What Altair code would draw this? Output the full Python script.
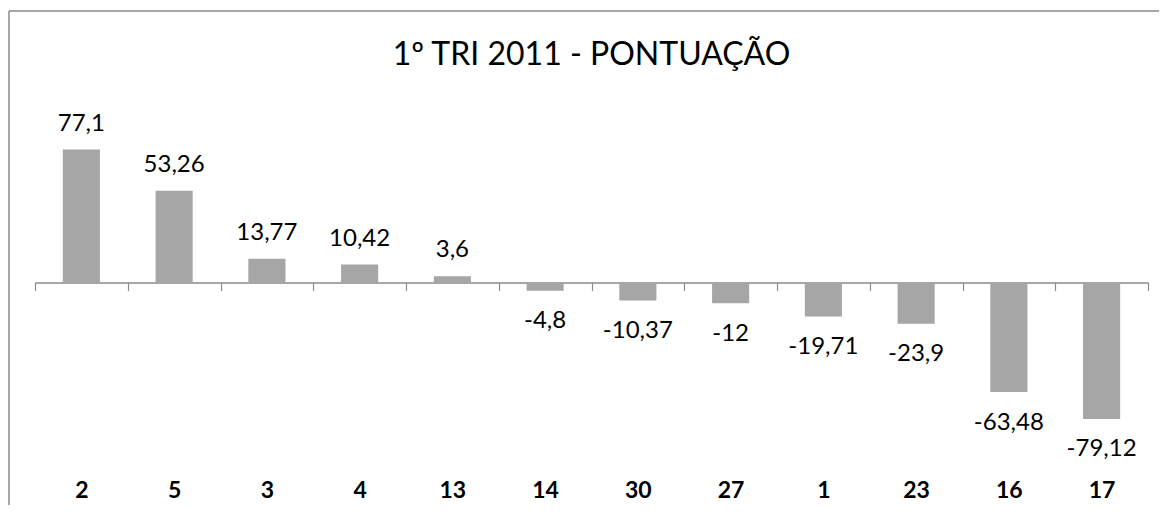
import altair as alt
import pandas as pd

categories = ["2", "5", "3", "4", "13", "14", "30", "27", "1", "23", "16", "17"]
values = [77.1, 53.26, 13.77, 10.42, 3.6, -4.8, -10.37, -12, -19.71, -23.9, -63.48, -79.12]
labels = [f"{v:g}".replace(".", ",") for v in values]

df = pd.DataFrame({"cat": categories, "val": values, "lbl": labels})

FONT = "Lato"
GRAY_LINE = "#8a8a8a"

x_enc = alt.X(
    "cat:N",
    sort=None,
    title=None,
    scale=alt.Scale(paddingInner=0, paddingOuter=0),
    axis=alt.Axis(
        labelAngle=0,
        labelFont=FONT,
        labelFontSize=23,
        labelFontWeight="bold",
        labelColor="black",
        labelBaseline="alphabetic",
        labelPadding=207,
        domainColor=GRAY_LINE,
        domainWidth=1.5,
        tickColor=GRAY_LINE,
        tickWidth=1.2,
        tickSize=8,
        tickBand="extent",
        offset=-172.5,
        grid=False,
    ),
)
y_enc = alt.Y("val:Q", scale=alt.Scale(domain=[-100, 100], nice=False), axis=None)

base = alt.Chart(df)

bars = base.mark_bar(color="#a6a6a6", width=alt.RelativeBandSize(0.4)).encode(x=x_enc, y=y_enc)

pos_lbl = base.transform_filter("datum.val >= 0").mark_text(
    font=FONT, fontSize=24, color="black", baseline="alphabetic", dy=-19
).encode(x=x_enc, y=y_enc, text="lbl:N")

neg_lbl = base.transform_filter("datum.val < 0").mark_text(
    font=FONT, fontSize=24, color="black", baseline="alphabetic", dy=37.5
).encode(x=x_enc, y=y_enc, text="lbl:N")

top_border = alt.Chart(df.head(1)).mark_rule(color=GRAY_LINE, strokeWidth=1.5).encode(
    x=alt.value(-26), x2=alt.value(1200), y=alt.value(-99)
)
left_border = alt.Chart(df.head(1)).mark_rule(color=GRAY_LINE, strokeWidth=1.5).encode(
    x=alt.value(-26), y=alt.value(-99), y2=alt.value(600)
)

chart = (
    alt.layer(bars, pos_lbl, neg_lbl, top_border, left_border)
    .properties(
        width=1113,
        height=345,
        title=alt.TitleParams(
            "1º TRI 2011 - PONTUAÇÃO",
            font=FONT,
            fontSize=32,
            fontWeight="normal",
            color="black",
            anchor="middle",
            baseline="alphabetic",
            offset=-86.75,
        ),
        autosize=alt.AutoSizeParams(type="none"),
        padding={"left": 27, "top": 102, "right": 11, "bottom": 50},
        background="white",
    )
    .configure_view(stroke=None)
)

chart.save("out.html", embed_options={"renderer": "svg", "actions": False})
